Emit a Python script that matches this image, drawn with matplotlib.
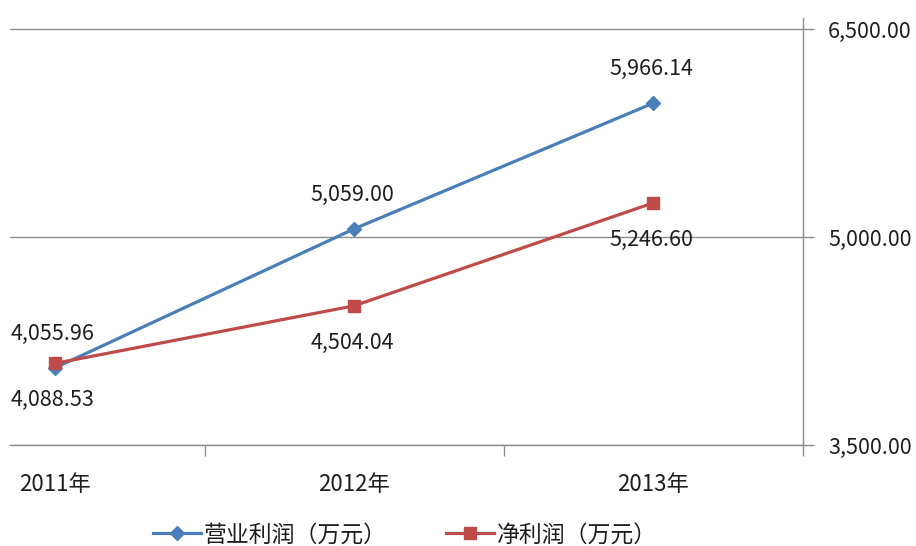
import matplotlib.pyplot as plt
from matplotlib.ticker import FixedLocator, FuncFormatter

plt.rcParams['font.family'] = ['Noto Sans CJK SC', 'DejaVu Sans']

#------------------------------------------------------------------------------
# Data
years = ['2011年', '2012年', '2013年']
op_profit = [4055.96, 5059.00, 5966.14]      # 营业利润（万元）
net_profit = [4088.53, 4504.04, 5246.60]     # 净利润（万元）
series_names = ['营业利润（万元）', '净利润（万元）']
y_ticks = [3500, 5000, 6500]

#------------------------------------------------------------------------------
fig = plt.figure(figsize=(9.16, 5.46), dpi=100)
ax = fig.add_axes([10 / 916, 1 - 445 / 546, 793 / 916, 427 / 546])

x = list(range(len(years)))
blue = '#4a7ebb'
red = '#be4b48'
grey = '#8c8c8c'
txt = '#1e1e1e'

ax.plot(x, op_profit, color=blue, linewidth=2.3, marker='D', markersize=7,
        label=series_names[0], zorder=3)
ax.plot(x, net_profit, color=red, linewidth=2.3, marker='s', markersize=9,
        label=series_names[1], zorder=3)

fmt = lambda v: f'{v:,.2f}'
for xi, v in zip(x, op_profit):
    ax.annotate(fmt(v), (xi, v), xytext=(-2, 34), textcoords='offset pixels',
                ha='center', va='center', fontsize=15.5, color=txt)
for xi, v in zip(x, net_profit):
    ax.annotate(fmt(v), (xi, v), xytext=(-2, -37), textcoords='offset pixels',
                ha='center', va='center', fontsize=15.5, color=txt)

ax.set_xlim(-0.15, 2.5)
ax.set_ylim(3500, 6580)

# y axis on the right
ax.yaxis.tick_right()
ax.yaxis.set_major_locator(FixedLocator(y_ticks))
ax.yaxis.set_major_formatter(FuncFormatter(lambda v, p: f'{v:,.2f}'))
ax.tick_params(axis='y', direction='out', length=8, width=1, color=grey,
               labelsize=15.5, pad=10, labelcolor=txt)
ax.grid(axis='y', color=grey, linewidth=1)
ax.set_axisbelow(True)

# category axis: tick marks between categories, labels at categories
ax.xaxis.set_major_locator(FixedLocator([0.5, 1.5, 2.5]))
ax.xaxis.set_major_formatter(FuncFormatter(lambda v, p: ''))
ax.xaxis.set_minor_locator(FixedLocator(x))
ax.set_xticklabels(years, minor=True)
ax.tick_params(axis='x', which='minor', length=0, labelsize=16, pad=20,
               labelcolor=txt)
ax.tick_params(axis='x', which='major', direction='out', length=8, width=1, color=grey)

for s in ['left', 'top']:
    ax.spines[s].set_visible(False)
for s in ['right', 'bottom']:
    ax.spines[s].set_color(grey)
    ax.spines[s].set_linewidth(1)

fig.legend(loc='center', bbox_to_anchor=(0.442, 1 - 535 / 546), ncol=2,
           frameon=False, fontsize=16.5, handlelength=2.1, handletextpad=0.1,
           columnspacing=2.6, labelcolor=txt)

fig.savefig('out.png', dpi=100)
